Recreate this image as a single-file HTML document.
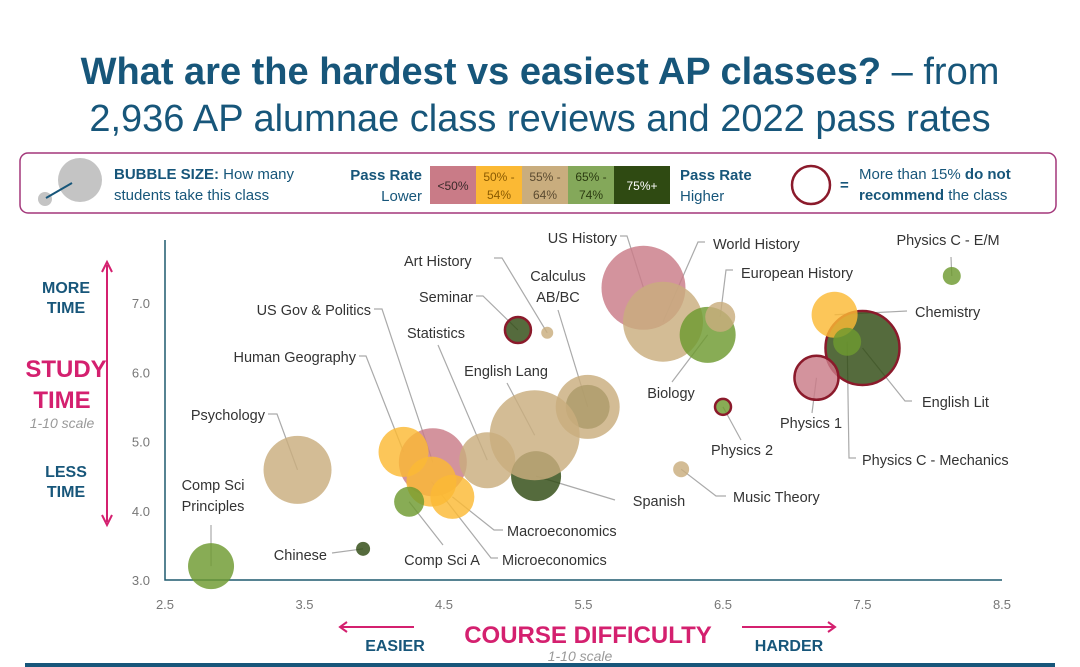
<!DOCTYPE html>
<html><head><meta charset="utf-8"><style>
body{margin:0;background:#fff;}
svg{display:block;font-family:"Liberation Sans",sans-serif;}
</style></head><body>
<svg id="chart" width="1080" height="667" viewBox="0 0 1080 667">
<g>
<text x="540" y="84" text-anchor="middle" font-size="38" fill="#17567a"><tspan font-weight="bold">What are the hardest vs easiest AP classes?</tspan> – from</text>
<text x="540" y="131" text-anchor="middle" font-size="38" fill="#17567a">2,936 AP alumnae class reviews and 2022 pass rates</text>
</g>
<g>
<rect x="20" y="153" width="1036" height="60" rx="8" fill="#fff" stroke="#a3377a" stroke-width="1.5"/>
<circle cx="80" cy="180" r="22" fill="#c4c4c4"/>
<circle cx="45" cy="199" r="7" fill="#c4c4c4"/>
<line x1="46" y1="198" x2="72" y2="183" stroke="#17567a" stroke-width="2"/>
<text x="114" y="179" font-size="15" fill="#17567a"><tspan font-weight="bold">BUBBLE SIZE:</tspan> How many</text>
<text x="114" y="200" font-size="15" fill="#17567a">students take this class</text>
<text x="422" y="180" text-anchor="end" font-size="15" font-weight="bold" fill="#17567a">Pass Rate</text>
<text x="422" y="201" text-anchor="end" font-size="15" fill="#17567a">Lower</text>
<rect x="430" y="166" width="46" height="38" fill="#c97b87"/>
<rect x="476" y="166" width="46" height="38" fill="#fbb934"/>
<rect x="522" y="166" width="46" height="38" fill="#c9ad7e"/>
<rect x="568" y="166" width="46" height="38" fill="#84a85a"/>
<rect x="614" y="166" width="56" height="38" fill="#2f4a12"/>
<g font-size="12" text-anchor="middle">
<text x="453" y="190" fill="#3a2a2a">&lt;50%</text>
<text x="499" y="181" fill="#8a5a00">50% -</text><text x="499" y="199" fill="#8a5a00">54%</text>
<text x="545" y="181" fill="#5a4a30">55% -</text><text x="545" y="199" fill="#5a4a30">64%</text>
<text x="591" y="181" fill="#2a3a10">65% -</text><text x="591" y="199" fill="#2a3a10">74%</text>
<text x="642" y="190" fill="#fff">75%+</text>
</g>
<text x="680" y="180" font-size="15" font-weight="bold" fill="#17567a">Pass Rate</text>
<text x="680" y="201" font-size="15" fill="#17567a">Higher</text>
<circle cx="811" cy="185" r="19" fill="#fff" stroke="#8b1a2b" stroke-width="2.5"/>
<text x="840" y="190" font-size="15" font-weight="bold" fill="#17567a">=</text>
<text x="859" y="179" font-size="15" fill="#17567a">More than 15% <tspan font-weight="bold">do not</tspan></text>
<text x="859" y="200" font-size="15" fill="#17567a"><tspan font-weight="bold">recommend</tspan> the class</text>
</g>
<g id="axes"></g>
<g id="leaders"></g>
<g id="bubbles"></g>
<g id="labels"></g>
<g>
<text x="66" y="293" text-anchor="middle" font-size="16" font-weight="bold" fill="#17567a">MORE</text>
<text x="66" y="313" text-anchor="middle" font-size="16" font-weight="bold" fill="#17567a">TIME</text>
<text x="66" y="377" text-anchor="middle" font-size="24" font-weight="bold" fill="#d4206f">STUDY</text>
<text x="62" y="408" text-anchor="middle" font-size="24" font-weight="bold" fill="#d4206f">TIME</text>
<text x="62" y="428" text-anchor="middle" font-size="14" font-style="italic" fill="#999">1-10 scale</text>
<text x="66" y="477" text-anchor="middle" font-size="16" font-weight="bold" fill="#17567a">LESS</text>
<text x="66" y="497" text-anchor="middle" font-size="16" font-weight="bold" fill="#17567a">TIME</text>
<line x1="107" y1="265" x2="107" y2="522" stroke="#d4206f" stroke-width="2"/>
<path d="M102 272 L107 262 L112 272 M102 515 L107 525 L112 515" fill="none" stroke="#d4206f" stroke-width="2"/>
<text x="588" y="643" text-anchor="middle" font-size="24" font-weight="bold" fill="#d4206f">COURSE DIFFICULTY</text>
<text x="580" y="661" text-anchor="middle" font-size="14" font-style="italic" fill="#999">1-10 scale</text>
<text x="395" y="651" text-anchor="middle" font-size="16" font-weight="bold" fill="#17567a">EASIER</text>
<text x="789" y="651" text-anchor="middle" font-size="16" font-weight="bold" fill="#17567a">HARDER</text>
<path d="M340 627 L414 627 M347 622 L340 627 L347 632" fill="none" stroke="#d4206f" stroke-width="2"/>
<path d="M742 627 L835 627 M828 622 L835 627 L828 632" fill="none" stroke="#d4206f" stroke-width="2"/>
<rect x="25" y="663" width="1030" height="4" fill="#17567a"/>
</g>
</svg>
<script>
const classes=["Comp Sci Principles","Psychology","Chinese","US Gov & Politics","Human Geography","Comp Sci A","Microeconomics","Macroeconomics","Statistics","English Lang","Spanish","Calculus AB","Calculus BC","Seminar","Art History","US History","World History","Biology","European History","Physics 2","Music Theory","Physics 1","English Lit","Chemistry","Physics C - Mechanics","Physics C - E/M"];
const difficulty=[2.83,3.45,3.92,4.42,4.21,4.25,4.41,4.56,4.81,5.15,5.16,5.53,5.53,5.03,5.24,5.93,6.07,6.39,6.48,6.50,6.20,7.17,7.50,7.30,7.39,8.14];
const studyTime=[3.20,4.59,3.45,4.70,4.85,4.13,4.42,4.20,4.73,5.09,4.50,5.50,5.50,6.61,6.57,7.22,6.73,6.54,6.80,5.50,4.60,5.92,6.35,6.83,6.44,7.39];
const students=[23,34,7,34,25,15,25,22,28,45,25,32,22,13,6,42,40,28,15,8,8,22,37,23,14,9];
const passBand=[3,2,4,0,1,3,1,1,2,2,4,2,4,4,2,0,2,3,2,3,2,0,4,1,3,3];
const notRecommend=[0,0,0,0,0,0,0,0,0,0,0,0,0,1,0,0,0,0,0,1,0,1,1,0,0,0];
const xTicks=[2.5,3.5,4.5,5.5,6.5,7.5,8.5];
const xTickLabels=["2.5","3.5","4.5","5.5","6.5","7.5","8.5"];
const yTicks=[3,4,5,6,7];
const yTickLabels=["3.0","4.0","5.0","6.0","7.0"];
const bandColors=["#c97b87","#fbb934","#c9ad7e","#6e9a2f","#2f4a12"];
const X=v=>165+(v-2.5)*139.5, Y=v=>580-(v-3)*69.25;
const NS="http://www.w3.org/2000/svg";
function mk(tag,attrs,parent){const e=document.createElementNS(NS,tag);for(const k in attrs)e.setAttribute(k,attrs[k]);parent.appendChild(e);return e;}
const axes=document.getElementById('axes');
let a=mk('path',{d:`M${X(2.5)} 240 L${X(2.5)} ${Y(3)} L${X(8.5)} ${Y(3)}`,fill:'none',stroke:'#1f5a6e','stroke-width':1.5},axes);


xTicks.forEach((t,i)=>{const e=mk('text',{x:X(t),y:609,'text-anchor':'middle','font-size':13,fill:'#777'},axes);e.textContent=xTickLabels[i];

});
yTicks.forEach((t,i)=>{const e=mk('text',{x:150,y:Y(t)+5,'text-anchor':'end','font-size':13,fill:'#777'},axes);e.textContent=yTickLabels[i];

});
const layout={
"Comp Sci Principles":{t:[[213,490],[213,511]],lines:["Comp Sci","Principles"],a:"middle",p:[[211,525]]},
"Psychology":{t:[[265,420]],a:"end",p:[[268,414],[277,414]]},
"Chinese":{t:[[327,560]],a:"end",p:[[332,553]]},
"Human Geography":{t:[[356,362]],a:"end",p:[[359,356],[366,356]]},
"US Gov & Politics":{t:[[371,315]],a:"end",p:[[374,309],[382,309]]},
"Statistics":{t:[[407,338]],a:"start",p:[[438,345]]},
"Art History":{t:[[404,266]],a:"start",p:[[494,258],[502,258]]},
"Seminar":{t:[[473,302]],a:"end",p:[[476,296],[483,296]]},
"Calculus BC":{t:[[558,281],[558,302]],lines:["Calculus","AB/BC"],a:"middle",p:[[558,310]]},
"English Lang":{t:[[506,376]],a:"middle",p:[[507,383]]},
"US History":{t:[[617,243]],a:"end",p:[[620,236],[627,236]]},
"World History":{t:[[713,249]],a:"start",p:[[705,242],[698,242]]},
"European History":{t:[[741,278]],a:"start",p:[[733,270],[726,270]]},
"Biology":{t:[[671,398]],a:"middle",p:[[672,382]]},
"Physics 2":{t:[[742,455]],a:"middle",p:[[741,440]]},
"Music Theory":{t:[[733,502]],a:"start",p:[[726,496],[716,496]]},
"Spanish":{t:[[659,506]],a:"middle",p:[[615,500]]},
"Macroeconomics":{t:[[507,536]],a:"start",p:[[503,530],[494,530]]},
"Microeconomics":{t:[[502,565]],a:"start",p:[[498,558],[491,558]]},
"Comp Sci A":{t:[[442,565]],a:"middle",p:[[443,545]]},
"Physics 1":{t:[[811,428]],a:"middle",p:[[812,413]]},
"Physics C - Mechanics":{t:[[862,465]],a:"start",p:[[856,458],[849,458]]},
"English Lit":{t:[[922,407]],a:"start",p:[[912,401],[905,401]]},
"Chemistry":{t:[[915,317]],a:"start",p:[[907,311]]},
"Physics C - E/M":{t:[[948,245]],a:"middle",p:[[951,257]]}
};
// draw order: larger first, but tan overlay bubbles drawn over their dark neighbours
const order=classes.map((c,i)=>i).sort((a,b)=>students[b]-students[a]);
["Calculus AB","English Lang"].forEach(n=>{const i=classes.indexOf(n);order.splice(order.indexOf(i),1);order.push(i);});
const bg=document.getElementById('bubbles'),lg=document.getElementById('leaders'),tg=document.getElementById('labels');
order.forEach(i=>{
 const c=mk('circle',{cx:X(difficulty[i]),cy:Y(studyTime[i]),r:students[i],fill:bandColors[passBand[i]],'fill-opacity':0.82},bg);
 if(notRecommend[i]){c.setAttribute('stroke','#8b1a2b');c.setAttribute('stroke-width','2.5');}
 
 
});
classes.forEach((name,i)=>{
 const L=layout[name]; if(!L) return;
 const pts=L.p.concat([[X(difficulty[i]),Y(studyTime[i])]]);
 const pl=mk('polyline',{points:pts.map(p=>p.join(',')).join(' '),fill:'none',stroke:'#aaa','stroke-width':1.2},lg);
 
 
 const lines=L.lines||[name];
 lines.forEach((s,k)=>{const e=mk('text',{x:L.t[k][0],y:L.t[k][1],'text-anchor':L.a,'font-size':14.5,fill:'#333'},tg);e.textContent=s;
 
 });
});
</script>
</body></html>
